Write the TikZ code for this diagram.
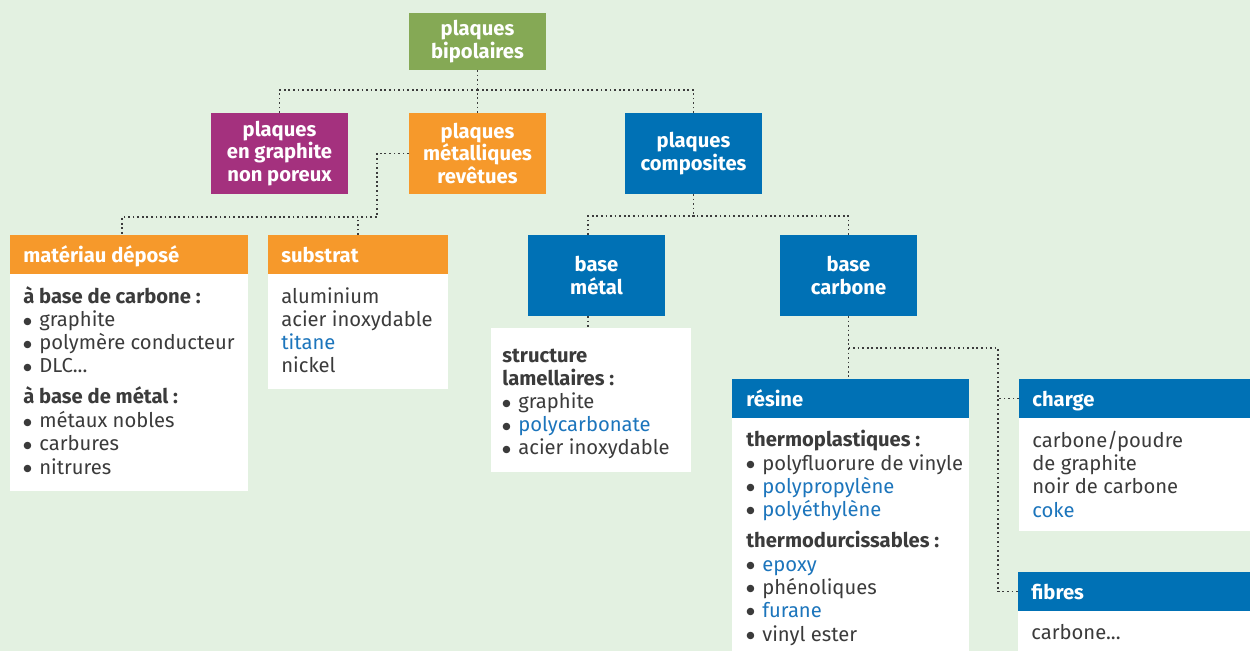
\documentclass[tikz,border=0pt]{standalone}
\usepackage{fontspec}
\setmainfont{Fira Sans}
\newfontfamily\djv{DejaVu Sans}
\definecolor{bg}{HTML}{E3F1E1}
\definecolor{cgreen}{HTML}{85A955}
\definecolor{cpurple}{HTML}{A4317E}
\definecolor{corange}{HTML}{F6992B}
\definecolor{cblue}{HTML}{0071B5}
\definecolor{ctext}{HTML}{3B3B3B}
\definecolor{clink}{HTML}{1C75BC}
\definecolor{cdot}{HTML}{3C3C3C}
\newcommand\bl{\makebox[0.32cm][l]{\raisebox{1.6pt}{\djv\fontsize{5.5pt}{6pt}\selectfont ●}}}
\newcommand\lk[1]{\textcolor{clink}{#1}}
\begin{document}
\begin{tikzpicture}[x=0.02cm,y=-0.02cm,
 font=\fontsize{11.5pt}{13pt}\selectfont,
 wh/.style 2 args={minimum width=#1*0.02cm, minimum height=#2*0.02cm},
 mainbox/.style={anchor=north west, inner sep=0pt, outer sep=0pt, text=white, font=\fontsize{11.5pt}{13pt}\selectfont\bfseries, align=center},
 hdr/.style={anchor=north west, inner sep=0pt, outer sep=0pt},
 bodybox/.style={anchor=north west, inner sep=0pt, outer sep=0pt, fill=white},
 ttl/.style={anchor=base west, inner sep=0pt, text=white, font=\fontsize{11.5pt}{13pt}\selectfont\bfseries},
 txt/.style={anchor=base west, inner sep=0pt, text=ctext},
 dots/.style={cdot, line width=1pt, dash pattern=on 1pt off 1.6pt}]
\clip (0,0) rectangle (1250,651);
\fill[bg] (0,0) rectangle (1250,651);

% main boxes
\node[mainbox, fill=cgreen, wh={137}{57}] (bip) at (409,13) {plaques\\bipolaires};
\node[mainbox, fill=cpurple, wh={137}{81}] (purple) at (211,113) {plaques\\en graphite\\non poreux};
\node[mainbox, fill=corange, wh={137}{81}] (ormet) at (409,113) {plaques\\métalliques\\revêtues};
\node[mainbox, fill=cblue, wh={137}{81}] (comp) at (625,113) {plaques\\composites};
\node[mainbox, fill=cblue, wh={137}{81}] (bmet) at (528,235) {base\\métal};
\node[mainbox, fill=cblue, wh={137}{81}] (bcarb) at (780,235) {base\\carbone};

% panels
\node[hdr, fill=corange, wh={238}{39}] (matH) at (10,235) {};
\node[bodybox, wh={238}{217}] (matB) at (10,274) {};
\node[hdr, fill=corange, wh={180}{39}] (subH) at (268,235) {};
\node[bodybox, wh={180}{115}] (subB) at (268,274) {};
\node[bodybox, wh={200}{144}] (strB) at (491,328) {};
\node[hdr, fill=cblue, wh={237}{39}] (resH) at (732,379) {};
\node[bodybox, wh={237}{290}] (resB) at (732,418) {};
\node[hdr, fill=cblue, wh={240}{39}] (chH) at (1019,379) {};
\node[bodybox, wh={240}{113}] (chB) at (1019,418) {};
\node[hdr, fill=cblue, wh={240}{39}] (fibH) at (1018,572) {};
\node[bodybox, wh={240}{100}] (fibB) at (1018,611) {};

% titles
\node[ttl] (matT) at (23,263) {matériau déposé};
\node[ttl] (subT) at (281,263) {substrat};
\node[ttl] (resT) at (746,407) {résine};
\node[ttl] (chT) at (1032,407) {charge};
\node[ttl] (fibT) at (1031,599) {fibres};

% texts
\foreach \yy/\tx [count=\i] in {304/{\textbf{à base de carbone :}}, 327/{\bl graphite}, 350/{\bl polymère conducteur}, 373/{\bl DLC...}, 404/{\textbf{à base de métal :}}, 428/{\bl métaux nobles}, 451/{\bl carbures}, 474/{\bl nitrures}}
  \node[txt] (mat\i) at (23,\yy) {\tx};
\foreach \yy/\tx [count=\i] in {304/{aluminium}, 327/{acier inoxydable}, 350/{\lk{titane}}, 373/{nickel}}
  \node[txt] (sub\i) at (281,\yy) {\tx};
\foreach \yy/\tx [count=\i] in {363/{\textbf{structure}}, 386/{\textbf{lamellaires :}}, 409/{\bl graphite}, 432/{\bl\lk{polycarbonate}}, 455/{\bl acier inoxydable}}
  \node[txt] (str\i) at (502,\yy) {\tx};
\foreach \yy/\tx [count=\i] in {446/{\textbf{thermoplastiques :}}, 470/{\bl polyfluorure de vinyle}, 493/{\bl\lk{polypropylène}}, 516/{\bl\lk{polyéthylène}}, 547/{\textbf{thermodurcissables :}}, 571/{\bl\lk{epoxy}}, 594/{\bl phénoliques}, 617/{\bl\lk{furane}}, 641/{\bl vinyl ester}}
  \node[txt] (res\i) at (746,\yy) {\tx};
\foreach \yy/\tx [count=\i] in {447/{carbone/poudre}, 470/{de graphite}, 493/{noir de carbone}, 517/{\lk{coke}}}
  \node[txt] (ch\i) at (1032,\yy) {\tx};
\node[txt] (fib1) at (1031,639) {carbone...};

% connectors
\coordinate (j1) at (477.5,90);
\draw[dots] (bip.south) -- (ormet.north);
\draw[dots] (purple.north) |- (j1);
\draw[dots] (comp.north) |- (j1);

\coordinate (k1) at (377,217);
\coordinate (matdrop) at (122,235);
\draw[dots] (ormet.west) -| (k1) -| (matdrop);
\draw[dots] (subH.north) -- (subH.north |- k1);

\coordinate (k3) at (693.5,216);
\coordinate (bmtop) at (588,235);
\draw[dots] (comp.south) -- (k3);
\draw[dots] (bcarb.north) |- (k3);
\draw[dots] (bmtop) |- (k3);
\draw[dots] (bmet.south -| bmtop) -- (strB.north -| bmtop);

\coordinate (k4) at (848.5,348);
\coordinate (k5) at (998,348);
\draw[dots] (bcarb.south) -- (resH.north -| bcarb.south);
\draw[dots] (k4) -- (k5) |- (fibH.west);
\draw[dots] (chH.west) -- (chH.west -| k5);
\end{tikzpicture}
\end{document}
